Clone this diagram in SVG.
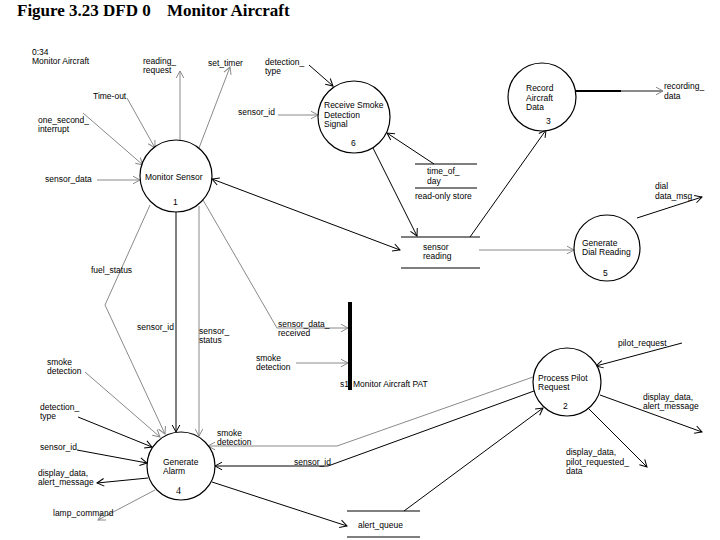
<svg xmlns="http://www.w3.org/2000/svg" width="720" height="540" viewBox="0 0 720 540">
<defs>
<style>
text{font-family:"Liberation Sans",Arial,sans-serif;font-size:8.5px;fill:#000}
.title{font-family:"Liberation Serif","Times New Roman",serif;font-size:17px;font-weight:bold}
.num{font-family:"Liberation Serif",serif;font-size:10px}
.proc{fill:#fff;stroke:#000;stroke-width:1.2}
.store{stroke:#000;stroke-width:1.2}
.k{fill:none;stroke:#000;stroke-width:1}
.g{fill:none;stroke:#8a8a8a;stroke-width:1}
.k.a{marker-end:url(#ak)}
.g.a{marker-end:url(#ag)}
.k.s{marker-start:url(#aks)}
</style>
<marker id="ak" markerUnits="userSpaceOnUse" markerWidth="12" markerHeight="12" viewBox="-9 -6 12 12" refX="0" refY="0" orient="auto">
<path d="M-7,-3.8 L0,0 L-7,3.8" fill="none" stroke="#000" stroke-width="1"/>
</marker>
<marker id="aks" markerUnits="userSpaceOnUse" markerWidth="12" markerHeight="12" viewBox="-3 -6 12 12" refX="0" refY="0" orient="auto">
<path d="M7,-3.8 L0,0 L7,3.8" fill="none" stroke="#000" stroke-width="1"/>
</marker>
<marker id="ag" markerUnits="userSpaceOnUse" markerWidth="12" markerHeight="12" viewBox="-9 -6 12 12" refX="0" refY="0" orient="auto">
<path d="M-7,-3.8 L0,0 L-7,3.8" fill="none" stroke="#8a8a8a" stroke-width="1"/>
</marker>
</defs>
<rect width="720" height="540" fill="#fff"/>
<text class="title" x="17" y="16">Figure 3.23 DFD 0<tspan x="167">Monitor Aircraft</tspan></text>
<text x="32" y="55" font-size="8">0:34<tspan x="32" dy="9">Monitor Aircraft</tspan></text>

<g id="connectors">
<line class="g a" x1="83" y1="113" x2="143" y2="165"/>
<line class="g a" x1="127" y1="98" x2="155" y2="148"/>
<line class="g a" x1="180" y1="140" x2="180" y2="71"/>
<line class="g a" x1="199" y1="148" x2="230" y2="67"/>
<line class="g a" x1="97" y1="180" x2="140" y2="180"/>
<line class="k a s" x1="212" y1="179" x2="400" y2="250"/>
<polyline class="g a" points="150,205 105,305 165,434"/>
<line class="k a" x1="176" y1="212" x2="176" y2="432"/>
<line class="g a" x1="199" y1="206" x2="199" y2="436"/>
<polyline class="g a" points="203,200 277,328 348,328"/>
<line class="g a" x1="296" y1="363" x2="348" y2="363"/>
<line class="k a" x1="309" y1="65" x2="333" y2="86"/>
<line class="g a" x1="278" y1="115" x2="318" y2="115"/>
<line class="k a" x1="434" y1="164" x2="387" y2="133"/>
<line class="k a" x1="373" y1="148" x2="417" y2="236"/>
<line class="k a" x1="470" y1="237" x2="546" y2="130"/>
<line class="g a" x1="479" y1="250" x2="574" y2="250"/>
<line x1="576" y1="91" x2="622" y2="91" stroke="#000" stroke-width="2.2"/>
<line x1="621" y1="91" x2="663" y2="91" stroke="#8a8a8a" stroke-width="2.2" marker-end="url(#ag)"/>
<line class="k a" x1="637" y1="218" x2="702" y2="197"/>
<line class="k a" x1="682" y1="343" x2="596" y2="366"/>
<line class="k a" x1="600" y1="395" x2="702" y2="432"/>
<line class="k a" x1="588" y1="408" x2="647" y2="467"/>
<polyline class="g a" points="533,377 337,446 208,446"/>
<polyline class="k a" points="534,391 328,466 215,466"/>
<line class="k a" x1="404" y1="511" x2="543" y2="408"/>
<line class="g a" x1="85" y1="372" x2="160" y2="437"/>
<line class="k a" x1="78" y1="417" x2="152" y2="447"/>
<line class="k a" x1="77" y1="450" x2="147" y2="463"/>
<line class="k a" x1="148" y1="478" x2="97" y2="483"/>
<line class="g a" x1="155" y1="490" x2="98" y2="520"/>
<line class="k a" x1="212" y1="482" x2="347" y2="526"/>
</g>

<g id="p1">
<circle class="proc" cx="176" cy="176" r="36"/>
<text x="145" y="180" font-size="9">Monitor Sensor</text>
<text x="173" y="205" font-size="8">1</text>
</g>
<g id="p6">
<circle class="proc" cx="354" cy="117" r="36"/>
<text x="324" y="108">Receive Smoke<tspan x="324" dy="9.5">Detection</tspan><tspan x="324" dy="9.5">Signal</tspan></text>
<text x="351" y="146" font-size="8">6</text>
</g>
<g id="p3">
<circle class="proc" cx="542" cy="97" r="34"/>
<text x="526" y="91">Record<tspan x="526" dy="9.5">Aircraft</tspan><tspan x="526" dy="9.5">Data</tspan></text>
<text x="546" y="124" font-size="8">3</text>
</g>
<g id="p5">
<circle class="proc" cx="607" cy="248" r="33"/>
<text x="582" y="245.5">Generate<tspan x="582" dy="9.5">Dial Reading</tspan></text>
<text x="603" y="276" font-size="8">5</text>
</g>
<g id="p4">
<circle class="proc" cx="181" cy="466" r="34"/>
<text x="163" y="464.5">Generate<tspan x="163" dy="9.5">Alarm</tspan></text>
<text class="num" x="176" y="494">4</text>
</g>
<g id="p2">
<circle class="proc" cx="567" cy="382" r="34"/>
<text x="538" y="380.5">Process Pilot<tspan x="538" dy="9.5">Request</tspan></text>
<text x="563" y="409" font-size="8">2</text>
</g>

<g id="store-time">
<line class="store" x1="415" y1="164" x2="477" y2="164"/>
<line class="store" x1="415" y1="188" x2="477" y2="188"/>
<text x="427" y="174">time_of_<tspan x="427" dy="9.5">day</tspan></text>
<text x="415" y="199">read-only store</text>
</g>
<g id="store-sensor">
<line class="store" x1="401" y1="237" x2="480" y2="237"/>
<line class="store" x1="401" y1="268" x2="480" y2="268"/>
<text x="423" y="249.5">sensor<tspan x="423" dy="9.5">reading</tspan></text>
</g>
<g id="store-alert">
<line class="store" x1="347" y1="511" x2="420" y2="511"/>
<line class="store" x1="347" y1="537" x2="420" y2="537"/>
<text x="358" y="528">alert_queue</text>
</g>
<g id="pat">
<rect x="348" y="302" width="4" height="88" fill="#000"/>
<text x="340" y="387" font-size="8">s1</text>
<text x="353" y="387">Monitor Aircraft PAT</text>
</g>

<g id="labels">
<text x="143" y="63.5">reading_<tspan x="143" dy="9.5">request</tspan></text>
<text x="208" y="66">set_timer</text>
<text x="265" y="64.5">detection_<tspan x="265" dy="9.5">type</tspan></text>
<text x="93" y="99">Time-out</text>
<text x="238" y="115">sensor_id</text>
<text x="38" y="122.5">one_second_<tspan x="38" dy="9.5">interrupt</tspan></text>
<text x="45" y="182">sensor_data</text>
<text x="91" y="273">fuel_status</text>
<text x="137" y="330">sensor_id</text>
<text x="199" y="333.5">sensor_<tspan x="199" dy="9.5">status</tspan></text>
<text x="278" y="326.5">sensor_data_<tspan x="278" dy="9.5">received</tspan></text>
<text x="256" y="360.5">smoke<tspan x="256" dy="9.5">detection</tspan></text>
<text x="47" y="364.5">smoke<tspan x="47" dy="9.5">detection</tspan></text>
<text x="40" y="409.5">detection_<tspan x="40" dy="9.5">type</tspan></text>
<text x="40" y="450">sensor_id</text>
<text x="38" y="475.5">display_data,<tspan x="38" dy="9.5">alert_message</tspan></text>
<text x="53" y="516">lamp_command</text>
<text x="217" y="435.5">smoke<tspan x="217" dy="9.5">detection</tspan></text>
<text x="294" y="465">sensor_id</text>
<text x="618" y="346">pilot_request</text>
<text x="643" y="399.5">display_data,<tspan x="643" dy="9.5">alert_message</tspan></text>
<text x="566" y="455">display_data,<tspan x="566" dy="9.5">pilot_requested_</tspan><tspan x="566" dy="9.5">data</tspan></text>
<text x="655" y="189">dial<tspan x="655" dy="9.5">data_msg</tspan></text>
<text x="664" y="89">recording_<tspan x="664" dy="9.5">data</tspan></text>
</g>
</svg>
